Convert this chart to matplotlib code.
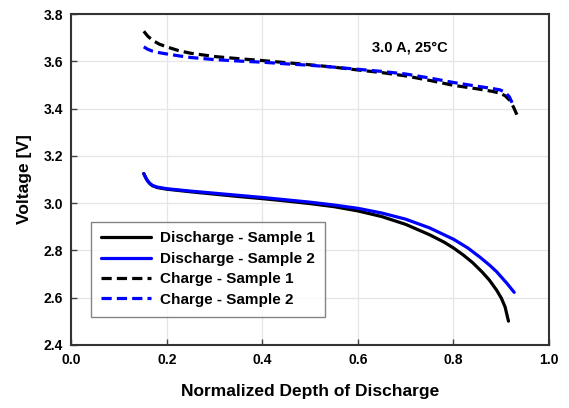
import matplotlib
matplotlib.use('Agg')
import matplotlib.pyplot as plt

plt.rcParams['font.family'] = ['Liberation Sans', 'DejaVu Sans']
plt.rcParams['font.weight'] = 'bold'

# Discharge curves
dis1_x = [0.152, 0.156, 0.160, 0.165, 0.170, 0.180, 0.200, 0.250, 0.300, 0.350, 0.400, 0.450, 0.500,
          0.550, 0.600, 0.650, 0.700, 0.750, 0.780, 0.800, 0.820, 0.840, 0.860, 0.875, 0.890,
          0.900, 0.908, 0.915]
dis1_y = [3.125, 3.108, 3.094, 3.082, 3.074, 3.066, 3.059, 3.048, 3.038, 3.028, 3.019, 3.009, 2.998,
          2.985, 2.967, 2.943, 2.910, 2.866, 2.835, 2.810, 2.781, 2.748, 2.708, 2.674, 2.632,
          2.598, 2.560, 2.500]
dis2_x = [0.152, 0.156, 0.160, 0.165, 0.170, 0.180, 0.200, 0.250, 0.300, 0.350, 0.400, 0.450, 0.500,
          0.550, 0.600, 0.650, 0.700, 0.750, 0.800, 0.830, 0.856, 0.875, 0.890, 0.911, 0.927]
dis2_y = [3.125, 3.108, 3.094, 3.083, 3.075, 3.068, 3.061, 3.051, 3.042, 3.033, 3.024, 3.014, 3.004,
          2.992, 2.978, 2.958, 2.932, 2.895, 2.847, 2.810, 2.770, 2.738, 2.710, 2.662, 2.622]

# Charge curves
chg1_x = [0.152, 0.160, 0.170, 0.185, 0.200, 0.225, 0.250, 0.300, 0.350, 0.400, 0.450, 0.500, 0.550,
          0.600, 0.650, 0.700, 0.750, 0.800, 0.850, 0.880, 0.897, 0.908, 0.918, 0.926, 0.936]
chg1_y = [3.728, 3.708, 3.690, 3.673, 3.662, 3.646, 3.635, 3.621, 3.612, 3.604, 3.595, 3.586, 3.576,
          3.564, 3.553, 3.539, 3.520, 3.499, 3.484, 3.474, 3.466, 3.455, 3.435, 3.405, 3.359]
chg2_x = [0.152, 0.160, 0.170, 0.185, 0.200, 0.225, 0.250, 0.300, 0.350, 0.400, 0.450, 0.500, 0.550,
          0.600, 0.650, 0.700, 0.750, 0.800, 0.850, 0.880, 0.897, 0.908, 0.917, 0.925]
chg2_y = [3.662, 3.652, 3.644, 3.637, 3.632, 3.624, 3.617, 3.608, 3.602, 3.597, 3.590, 3.584, 3.576,
          3.567, 3.558, 3.547, 3.530, 3.511, 3.495, 3.486, 3.480, 3.470, 3.450, 3.415]

xticks = [0.0, 0.2, 0.4, 0.6, 0.8, 1.0]
yticks = [2.4, 2.6, 2.8, 3.0, 3.2, 3.4, 3.6, 3.8]

fig = plt.figure(figsize=(5.69, 4.08), dpi=100)
ax = fig.add_axes([0.125, 0.155, 0.84, 0.81])

lw = 2.3
dash = (0, (3.2, 1.6))
ax.plot(dis1_x, dis1_y, color='black', lw=lw, label='Discharge - Sample 1', solid_capstyle='round')
ax.plot(dis2_x, dis2_y, color='#0000ff', lw=lw, label='Discharge - Sample 2', solid_capstyle='round')
ax.plot(chg1_x, chg1_y, color='black', lw=lw, ls=dash, label='Charge - Sample 1')
ax.plot(chg2_x, chg2_y, color='#0000ff', lw=lw, ls=dash, label='Charge - Sample 2')

ax.set_xlim(0.0, 1.0)
ax.set_ylim(2.4, 3.8)
ax.set_xticks(xticks)
ax.set_yticks(yticks)
ax.set_xticklabels([f'{v:.1f}' for v in xticks], fontsize=10, fontweight='bold')
ax.set_yticklabels([f'{v:.1f}' for v in yticks], fontsize=10, fontweight='bold')
ax.tick_params(direction='in', length=4, width=1, colors='#444444', labelcolor='black', pad=6)
ax.grid(True, color='#e6e6e6', lw=0.9)
ax.set_axisbelow(True)
for s in ax.spines.values():
    s.set_linewidth(1.5)
    s.set_color('#333333')

ax.set_xlabel('Normalized Depth of Discharge', fontsize=12.5, fontweight='bold', labelpad=12)
ax.set_ylabel('Voltage [V]', fontsize=12.5, fontweight='bold', labelpad=8)

ax.text(0.708, 3.66, '3.0 A, 25°C', fontsize=10.5, fontweight='bold', ha='center', va='center')

leg = ax.legend(loc='lower left', bbox_to_anchor=(0.025, 0.062), fontsize=11, frameon=True,
                fancybox=False, edgecolor='#666666', handlelength=3.3, labelspacing=0.42,
                borderpad=0.65, handletextpad=0.6)
leg.get_frame().set_linewidth(1.0)
for t in leg.get_texts():
    t.set_fontweight('bold')

fig.savefig('out.png', dpi=100)
